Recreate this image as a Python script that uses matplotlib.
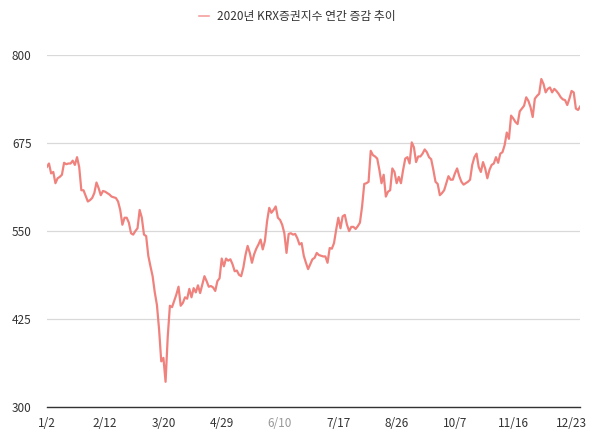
import matplotlib
matplotlib.use("Agg")
import matplotlib.pyplot as plt

plt.rcParams["font.family"] = ["Noto Sans CJK KR", "DejaVu Sans"]

# 2020 KRX securities index, one value per trading day
index_values = [
    641, 646, 632, 634, 618, 625, 627, 630, 647, 645,
    646, 646, 650, 644, 655, 641, 608, 608, 600, 592,
    594, 597, 604, 619, 611, 601, 607, 606, 604, 602,
    599, 598, 597, 592, 580, 559, 569, 569, 562, 547,
    545, 550, 554, 580, 569, 545, 543, 515, 500, 486,
    463, 445, 410, 365, 370, 336, 400, 444, 442, 451,
    460, 471, 444, 448, 456, 454, 468, 456, 469, 463,
    473, 462, 474, 486, 479, 471, 472, 470, 465, 479,
    483, 511, 500, 511, 508, 510, 503, 493, 494, 488,
    486, 498, 516, 529, 519, 505, 517, 525, 531, 538,
    524, 536, 564, 583, 576, 580, 585, 569, 566, 559,
    547, 519, 546, 547, 545, 546, 540, 531, 533, 515,
    505, 496, 503, 510, 512, 519, 516, 515, 514, 514,
    505, 526, 525, 533, 552, 569, 554, 571, 573, 559,
    550, 556, 556, 553, 557, 562, 585, 617, 618, 620,
    664, 658, 656, 653, 637, 618, 630, 599, 606, 608,
    639, 634, 618, 627, 618, 637, 653, 655, 646, 676,
    669, 648, 656, 656, 660, 666, 662, 655, 652, 637,
    620, 617, 601, 604, 608, 618, 628, 623, 623, 632,
    639, 628, 620, 616, 618, 620, 623, 644, 655, 660,
    641, 634, 648, 639, 625, 637, 644, 646, 655, 647,
    660, 662, 672, 690, 681, 714, 710, 705, 702, 720,
    724, 728, 740, 735, 726, 712, 738, 742, 745, 766,
    759, 747, 752, 754, 747, 752, 749, 745, 740, 737,
    736, 729, 738, 749, 747, 724, 722, 727,
]

tick_labels = ["1/2", "2/12", "3/20", "4/29", "6/10", "7/17",
               "8/26", "10/7", "11/16", "12/23"]
tick_step = 27
y_ticks = [300, 425, 550, 675, 800]

fig = plt.figure(figsize=(6, 4.44), dpi=100)
ax = fig.add_axes([0.078, 0.083, 0.889, 0.793])

ax.plot(range(len(index_values)), index_values, color="#f0827e",
        linewidth=1.6, label="2020년 KRX증권지수 연간 증감 추이", zorder=3)

ax.set_xlim(0, len(index_values) - 1)
ax.set_ylim(300, 800)
ax.set_yticks(y_ticks)
ax.set_xticks([i * tick_step for i in range(len(tick_labels))])
ax.set_xticklabels(tick_labels)

ax.grid(axis="y", color="#d9d9d9", linewidth=0.9)
ax.set_axisbelow(True)
for side in ["top", "right", "left"]:
    ax.spines[side].set_visible(False)
ax.spines["bottom"].set_color("#333333")
ax.spines["bottom"].set_linewidth(1.0)
ax.tick_params(axis="both", length=0, labelsize=8.5, colors="#333333")
ax.tick_params(axis="y", pad=11)
ax.tick_params(axis="x", pad=7)
ax.get_xticklabels()[4].set_color("#999999")

leg = ax.legend(loc="lower center", bbox_to_anchor=(0.47, 1.06), frameon=False,
                fontsize=8.5, handlelength=0.8, handletextpad=0.7,
                labelcolor="#333333")
for h in leg.legend_handles:
    h.set_linewidth(1.2)
    h.set_alpha(0.75)

fig.savefig("out.png", dpi=100)
